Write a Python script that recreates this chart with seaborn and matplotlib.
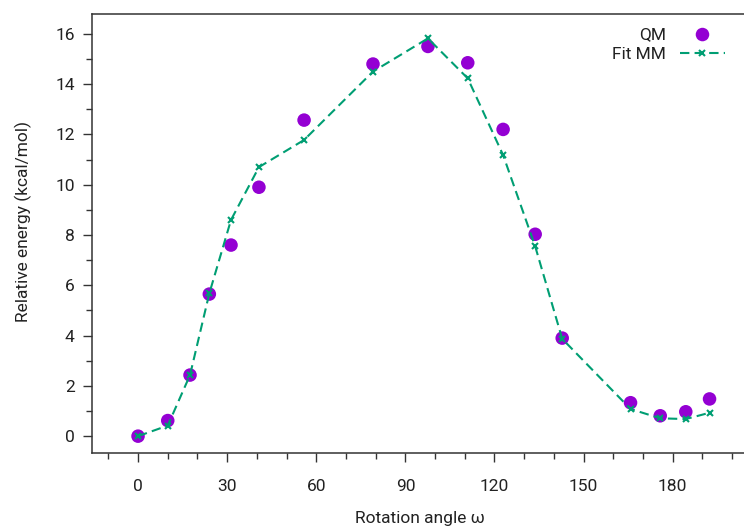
import matplotlib
matplotlib.use("Agg")
import matplotlib.pyplot as plt
from matplotlib.ticker import MultipleLocator
import seaborn as sns
import pandas as pd

# Torsion scan: QM reference energies and fitted MM energies
angle = [0, 10, 17.5, 24, 31.3, 40.7, 55.9, 79.1, 97.6, 111, 122.9, 133.7, 142.8,
         165.8, 175.8, 184.4, 192.4]
qm_energy = [0.0, 0.62, 2.43, 5.65, 7.6, 9.9, 12.57, 14.8, 15.5, 14.85, 12.2, 8.03, 3.9,
             1.33, 0.81, 0.97, 1.48]
mm_energy = [0.0, 0.42, 2.43, 5.68, 8.6, 10.7, 11.78, 14.5, 15.82, 14.23, 11.18, 7.55, 3.87,
             1.08, 0.71, 0.68, 0.93]
x_ticks = [0, 30, 60, 90, 120, 150, 180]
y_ticks = [0, 2, 4, 6, 8, 10, 12, 14, 16]

df = pd.DataFrame({"angle": angle, "QM": qm_energy, "MM": mm_energy})

sns.set_style("white")
plt.rcParams["font.family"] = ["Roboto", "DejaVu Sans"]

W, H = 744, 529
fig = plt.figure(figsize=(W / 100, H / 100), dpi=100)
ax = fig.add_axes([92 / W, (H - 453) / H, (W - 92) / W, (453 - 14) / H])

purple = "#9400D3"
green = "#009E73"

sns.scatterplot(data=df, x="angle", y="QM", ax=ax, color=purple, s=95,
                edgecolor="none", label="QM", zorder=2)
sns.lineplot(data=df, x="angle", y="MM", ax=ax, color=green, marker="x",
             markersize=5, markeredgewidth=1.5, markeredgecolor=green,
             linewidth=1.5, label="Fit MM", zorder=3)
ax.lines[-1].set_dashes([4.5, 2.5])

ax.set_xlim(-15.5, 204.0)
ax.set_ylim(-0.67, 16.79)
ax.set_xticks(x_ticks)
ax.set_yticks(y_ticks)
ax.xaxis.set_minor_locator(MultipleLocator(10))
ax.yaxis.set_minor_locator(MultipleLocator(1))

spine_color = "#333333"
for side in ("left", "top", "bottom"):
    ax.spines[side].set_visible(True)
    ax.spines[side].set_color(spine_color)
    ax.spines[side].set_linewidth(1.1)
ax.spines["right"].set_visible(False)

ax.tick_params(axis="both", which="both", direction="out", color=spine_color,
               labelsize=12.5, labelcolor="#222222")
ax.tick_params(axis="x", which="major", length=6.5, width=1.0, pad=12, bottom=True)
ax.tick_params(axis="x", which="minor", length=4.5, width=1.0, bottom=True)
ax.tick_params(axis="y", which="major", length=6.5, width=1.0, pad=6, left=True)
ax.tick_params(axis="y", which="minor", length=4.5, width=1.0, left=True)

ax.set_xlabel("Rotation angle ω", fontsize=12.5, color="#222222", va="center")
ax.set_ylabel("Relative energy (kcal/mol)", fontsize=12.5, color="#222222",
              va="center", ha="center")
ax.xaxis.set_label_coords((420 - 92) / (W - 92), -(519 - 453) / (453 - 14))
ax.yaxis.set_label_coords(-(92 - 23) / (W - 92), (453 - 221) / (453 - 14))

leg = ax.legend(loc="upper right", bbox_to_anchor=(732 / W, (H - 20) / H),
                bbox_transform=fig.transFigure, frameon=False, markerfirst=False,
                fontsize=12.5, handlelength=2.6, handletextpad=0.8,
                labelspacing=0.25, borderaxespad=0)
for t in leg.get_texts():
    t.set_color("#222222")

fig.savefig("out.png", dpi=100)
